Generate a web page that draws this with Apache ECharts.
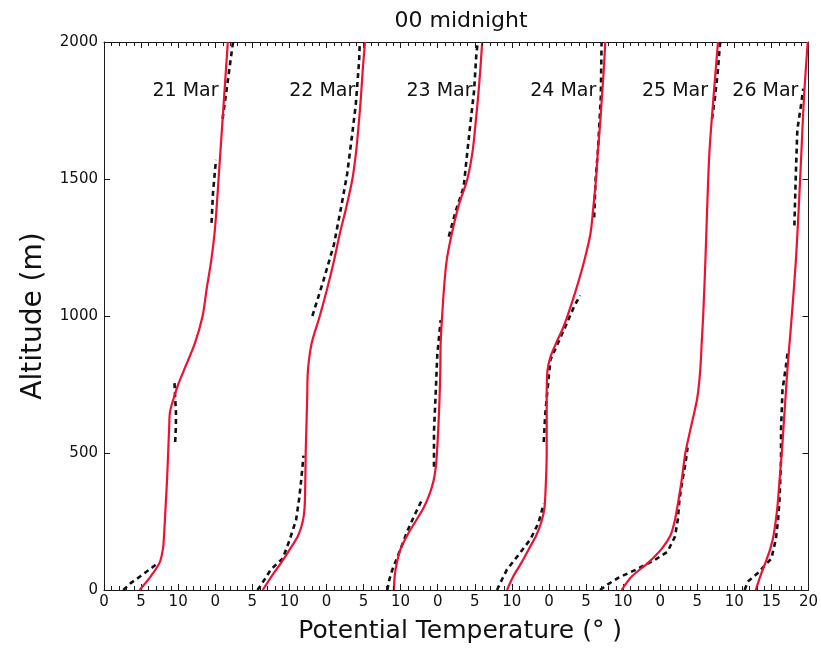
<!DOCTYPE html>
<html>
<head>
<meta charset="utf-8">
<script src="https://cdn.jsdelivr.net/npm/echarts@6/dist/echarts.min.js"></script>
<style>
  html, body { margin: 0; padding: 0; background: #ffffff; }
  #chart { width: 821px; height: 649px; }
</style>
</head>
<body>
<div id="chart"></div>
<script>
// Potential temperature profiles at 00 midnight, one panel per day.
// Each panel is shifted 15 degrees to the right of the previous one.
const days = ['21 Mar', '22 Mar', '23 Mar', '24 Mar', '25 Mar', '26 Mar'];
const panelShift = 15;

// x axis ticks on the shared (shifted) scale and the labels shown for them
const tickValues = [0, 5, 10, 15, 20, 25, 30, 35, 40, 45, 50, 55, 60, 65, 70, 75, 80, 85, 90, 95];
const tickLabels = ['0', '5', '10', '0', '5', '10', '0', '5', '10', '0', '5', '10',
                    '0', '5', '10', '0', '5', '10', '15', '20'];

// [altitude (m), potential temperature] — model (solid) and observed (dashed)
const model21 = [[0,4.8],[50,6.3],[100,7.5],[150,7.95],[200,8.1],[300,8.3],[400,8.5],[500,8.65],[600,8.8],[650,8.9],[700,9.4],[750,10.0],[800,10.75],[900,12.25],[1000,13.3],[1100,13.85],[1200,14.45],[1300,14.9],[1400,15.2],[1500,15.45],[1600,15.7],[1700,15.95],[1800,16.2],[1900,16.45],[2000,16.7]];
const obs21 = [[0,2.6],[25,3.6],[50,4.9],[80,6.4],[100,7.3],[300,null],[540,9.6],[600,9.7],[650,9.7],[700,9.6],[760,9.5],[1000,null],[1340,14.5],[1450,14.7],[1570,15.1],[1650,null],[1720,16.0],[1800,16.4],[1900,16.9],[2000,17.4]];

const model22 = [[0,6.4],[50,7.6],[100,8.9],[150,10.1],[200,11.2],[250,11.8],[300,12.05],[400,12.15],[500,12.2],[600,12.3],[700,12.4],[800,12.5],[900,13.0],[1000,14.1],[1100,15.1],[1200,16.0],[1300,16.8],[1400,17.7],[1500,18.5],[1600,19.0],[1700,19.35],[1800,19.65],[1900,19.9],[2000,20.2]];
const obs22 = [[0,5.7],[40,6.7],[75,7.5],[115,9.1],[180,10.0],[255,10.9],[330,11.3],[390,11.55],[460,11.8],[490,11.9],[700,null],[1000,13.1],[1130,14.6],[1260,16.0],[1400,17.0],[1520,17.8],[1670,18.5],[1770,18.95],[1930,19.4],[2000,19.5]];

const model23 = [[0,9.1],[50,9.2],[100,9.5],[150,10.0],[200,10.9],[250,12.0],[300,13.1],[350,13.9],[400,14.45],[450,14.75],[500,14.9],[600,15.1],[700,15.25],[800,15.35],[900,15.4],[1000,15.6],[1100,15.85],[1200,16.2],[1300,16.9],[1400,17.8],[1500,19.0],[1600,19.7],[1700,20.1],[1800,20.45],[1900,20.75],[2000,21.0]];
const obs23 = [[0,8.2],[40,8.5],[75,8.9],[150,10.0],[215,10.9],[280,12.0],[330,12.9],[400,null],[450,14.5],[580,14.5],[700,14.7],[860,14.95],[985,15.4],[1100,null],[1290,16.5],[1380,17.4],[1470,18.5],[1600,19.0],[1700,19.4],[1820,19.9],[1950,20.2],[2000,20.4]];

const model24 = [[0,9.35],[50,10.2],[100,11.3],[150,12.3],[200,13.3],[250,14.0],[300,14.4],[400,14.6],[500,14.7],[600,14.7],[700,14.7],[800,14.8],[850,15.2],[900,15.95],[950,16.8],[1000,17.5],[1100,18.7],[1200,19.75],[1300,20.6],[1400,21.0],[1500,21.35],[1600,21.6],[1700,21.9],[1800,22.15],[1900,22.4],[2000,22.6]];
const obs24 = [[0,8.0],[40,8.7],[75,9.35],[135,11.1],[185,12.5],[245,13.6],[315,14.3],[400,null],[540,14.3],[640,14.5],[700,14.7],[840,15.2],[900,16.2],[960,17.2],[1035,18.4],[1075,19.2],[1200,null],[1360,21.1],[1500,21.3],[1600,21.6],[1700,21.8],[1800,22.0],[1900,22.05],[2000,22.1]];

const model25 = [[0,9.8],[50,11.2],[100,13.4],[150,15.2],[200,16.4],[250,16.95],[300,17.3],[400,17.9],[500,18.4],[600,19.2],[700,20.0],[800,20.4],[900,20.6],[1000,20.8],[1200,21.1],[1400,21.35],[1600,21.65],[1800,22.2],[1900,22.5],[2000,22.8]];
const obs25 = [[0,6.9],[20,7.9],[45,9.4],[75,11.8],[110,14.3],[140,16.0],[195,17.0],[260,17.4],[330,17.6],[400,18.0],[460,18.4],[520,18.7],[600,null],[1720,22.0],[1800,22.4],[1900,22.8],[1970,23.0],[2000,23.1]];

const model26 = [[0,12.9],[50,13.5],[100,14.2],[150,14.85],[200,15.3],[300,15.8],[400,16.1],[500,16.4],[600,16.65],[700,16.9],[800,17.15],[900,17.45],[1000,17.75],[1200,18.3],[1400,18.7],[1600,19.05],[1800,19.4],[2000,19.9]];
const obs26 = [[0,11.4],[30,11.8],[60,13.1],[115,15.0],[185,15.6],[255,15.9],[330,16.1],[475,16.3],[585,16.3],[730,16.5],[815,16.95],[870,17.2],[950,null],[1330,18.1],[1520,18.3],[1680,18.5],[1770,19.0],[1830,19.3]];

const modelProfiles = [model21, model22, model23, model24, model25, model26];
const obsProfiles = [obs21, obs22, obs23, obs24, obs25, obs26];

// altitude at which each day's name is written, just left of its model curve
const labelAltitude = 1820;

const FONT = 'DejaVu Sans';
const AXIS_COLOR = '#1a1a1a';
const TEXT_COLOR = '#111111';
const RED = '#ee1133';

const X_MIN = 0, X_MAX = 95, Y_MIN = 0, Y_MAX = 2000;

function shifted(profile, k) {
  return profile.map(([alt, t]) => [t === null ? null : t + k * panelShift, alt]);
}

function valueAtAltitude(profile, alt) {
  for (let i = 1; i < profile.length; i++) {
    const [a0, t0] = profile[i - 1];
    const [a1, t1] = profile[i];
    if (alt >= a0 && alt <= a1) {
      return t0 + (t1 - t0) * (alt - a0) / (a1 - a0);
    }
  }
  return profile[profile.length - 1][1];
}

const series = [];
obsProfiles.forEach((p, k) => {
  series.push({
    name: 'obs ' + days[k],
    type: 'line',
    data: shifted(p, k),
    symbol: 'none',
    connectNulls: false,
    z: 2,
    lineStyle: { color: '#111111', width: 2.6, type: [5, 4] }
  });
});
modelProfiles.forEach((p, k) => {
  series.push({
    name: 'model ' + days[k],
    type: 'line',
    data: shifted(p, k),
    symbol: 'none',
    smooth: 0.3,
    z: 3,
    lineStyle: { color: RED, width: 2.2 }
  });
});

// one-degree minor ticks along the bottom and top frame edges
const minorTickPositions = [];
for (let v = X_MIN; v <= X_MAX; v++) {
  if (tickValues.indexOf(v) < 0) minorTickPositions.push([v, Y_MIN]);
}
series.push({
  name: 'minor ticks',
  type: 'custom',
  silent: true,
  clip: false,
  z: 5,
  encode: { x: 0, y: 1 },
  data: minorTickPositions,
  renderItem: (params, api) => {
    const v = api.value(0);
    const b = api.coord([v, Y_MIN]);
    const t = api.coord([v, Y_MAX]);
    const x = Math.round(b[0]) + 0.5;
    const style = { stroke: AXIS_COLOR, lineWidth: 1, fill: null };
    return {
      type: 'group',
      children: [
        { type: 'line', shape: { x1: x, y1: b[1], x2: x, y2: b[1] - 4 }, style: style },
        { type: 'line', shape: { x1: x, y1: t[1], x2: x, y2: t[1] + 4 }, style: style }
      ]
    };
  }
});

function xAxisAt(position, withLabels) {
  const ax = {
    type: 'value', position: position, min: X_MIN, max: X_MAX, interval: 5,
    axisLine: { show: true, onZero: false, lineStyle: { color: AXIS_COLOR, width: 1 } },
    splitLine: { show: false },
    axisTick: { show: true, inside: true, length: 6, lineStyle: { color: AXIS_COLOR, width: 1 } },
    axisLabel: { show: false }
  };
  if (withLabels) {
    ax.axisLabel = {
      show: true,
      formatter: v => { const i = tickValues.indexOf(v); return i < 0 ? '' : tickLabels[i]; },
      fontFamily: FONT, fontSize: 15, color: TEXT_COLOR, margin: 5
    };
    ax.name = 'Potential Temperature (° )';
    ax.nameLocation = 'middle';
    ax.nameGap = 29;
    ax.nameTextStyle = { fontFamily: FONT, fontSize: 25, color: TEXT_COLOR, padding: [0, 0, 0, 8] };
  }
  return ax;
}

function yAxisAt(position, withLabels) {
  const ax = {
    type: 'value', position: position, min: Y_MIN, max: Y_MAX, interval: 500,
    axisLine: { show: true, onZero: false, lineStyle: { color: AXIS_COLOR, width: 1 } },
    splitLine: { show: false },
    axisTick: { show: true, inside: true, length: 6, lineStyle: { color: AXIS_COLOR } },
    axisLabel: { show: false }
  };
  if (withLabels) {
    ax.axisLabel = { show: true, formatter: v => String(v), fontFamily: FONT, fontSize: 15, color: TEXT_COLOR, margin: 6 };
    ax.name = 'Altitude (m)';
    ax.nameLocation = 'middle';
    ax.nameGap = 56;
    ax.nameTextStyle = { fontFamily: FONT, fontSize: 28, color: TEXT_COLOR };
  }
  return ax;
}

const option = {
  animation: false,
  backgroundColor: '#ffffff',
  grid: { left: 104, right: 10, top: 42, bottom: 57, containLabel: false },
  xAxis: [xAxisAt('bottom', true), xAxisAt('top', false)],
  yAxis: [yAxisAt('left', true), yAxisAt('right', false)],
  series: series
};

// every series is plotted on the labelled bottom/left axes
option.series.forEach(s => { s.xAxisIndex = 0; s.yAxisIndex = 0; });

const chart = echarts.init(document.getElementById('chart'), null, { renderer: 'canvas' });
chart.setOption(option);

// title and day names; each name sits just left of its model curve
const texts = [{
  type: 'text',
  x: 461,
  y: 21,
  style: {
    text: '00 midnight', font: '22px "DejaVu Sans"', fill: TEXT_COLOR,
    textAlign: 'center', textVerticalAlign: 'middle'
  }
}];
modelProfiles.forEach((p, k) => {
  const pt = chart.convertToPixel({ xAxisIndex: 0, yAxisIndex: 0 },
    [valueAtAltitude(p, labelAltitude) + k * panelShift, labelAltitude]);
  texts.push({
    type: 'text',
    x: pt[0] - 6,
    y: pt[1],
    z: 10,
    style: {
      text: days[k], font: '19px "DejaVu Sans"', fill: TEXT_COLOR,
      textAlign: 'right', textVerticalAlign: 'middle'
    }
  });
});
chart.setOption({ graphic: texts });
</script>
</body>
</html>
